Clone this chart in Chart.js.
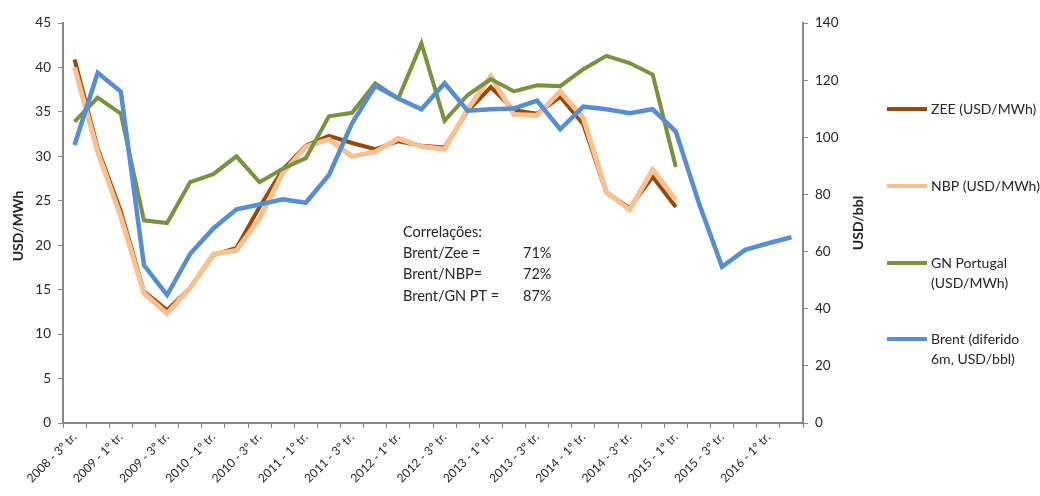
<!DOCTYPE html>
<html lang="pt">
<head>
<meta charset="utf-8">
<title>Brent vs gás natural</title>
<script src="https://cdn.jsdelivr.net/npm/chart.js@4.4.0/dist/chart.umd.min.js"></script>
<style>
    body { margin: 0; background: #fff; }
    #wrap { width: 1040px; height: 496px; }
</style>
</head>
<body>
<div id="wrap"><canvas id="chart" width="1040" height="496"></canvas></div>
<script>
// Trimestres: 2008 - 3º tr. até 2016 - 2º tr.
const quarters = [
    '2008 - 3º tr.', '2008 - 4º tr.',
    '2009 - 1º tr.', '2009 - 2º tr.', '2009 - 3º tr.', '2009 - 4º tr.',
    '2010 - 1º tr.', '2010 - 2º tr.', '2010 - 3º tr.', '2010 - 4º tr.',
    '2011 - 1º tr.', '2011 - 2º tr.', '2011 - 3º tr.', '2011 - 4º tr.',
    '2012 - 1º tr.', '2012 - 2º tr.', '2012 - 3º tr.', '2012 - 4º tr.',
    '2013 - 1º tr.', '2013 - 2º tr.', '2013 - 3º tr.', '2013 - 4º tr.',
    '2014 - 1º tr.', '2014 - 2º tr.', '2014 - 3º tr.', '2014 - 4º tr.',
    '2015 - 1º tr.', '2015 - 2º tr.', '2015 - 3º tr.', '2015 - 4º tr.',
    '2016 - 1º tr.', '2016 - 2º tr.'
];

// USD/MWh (eixo esquerdo)
const zee = [40.9, 30.9, 23.8, 14.8, 12.7, 15.2, 18.9, 19.7, 24.3, 28.5, 31.2, 32.3, 31.5, 30.8, 31.7, 31.2,
    31.0, 35.1, 37.8, 35.2, 34.8, 36.7, 33.6, 25.9, 24.2, 27.7, 24.3];
const nbp = [40.0, 30.5, 23.2, 14.6, 12.3, 15.2, 19.0, 19.4, 23.0, 28.1, 31.1, 31.9, 30.0, 30.5, 32.0, 31.1,
    30.8, 35.3, 39.0, 34.7, 34.6, 37.3, 34.3, 26.0, 24.0, 28.5, 25.1];
const gnPortugal = [33.9, 36.6, 34.8, 22.8, 22.5, 27.1, 28.0, 30.0, 27.1, 28.6, 29.8, 34.5, 34.9, 38.2, 36.5, 42.7,
    34.0, 36.9, 38.7, 37.3, 38.0, 37.9, 39.8, 41.3, 40.5, 39.2, 28.8];
// USD/bbl (eixo direito)
const brent = [97.3, 122.6, 116.0, 55.3, 44.8, 59.2, 68.1, 74.8, 76.5, 78.3, 77.1, 86.8, 104.9, 118.0, 113.6, 109.8,
    118.9, 109.3, 109.8, 110.1, 112.8, 102.8, 110.7, 109.8, 108.4, 109.8, 102.0, 76.9, 54.7, 60.6, 62.9, 65.0];

const leftTicks = { min: 0, max: 45, step: 5 };
const rightTicks = { min: 0, max: 140, step: 20 };

const legendLabels = [
    ['ZEE (USD/MWh)'],
    ['NBP (USD/MWh)'],
    ['GN Portugal', '(USD/MWh)'],
    ['Brent (diferido', '6m, USD/bbl)']
];
const correlLabels = ['Brent/Zee =', 'Brent/NBP=', 'Brent/GN PT ='];
const correlValues = ['71%', '72%', '87%'];

const FONT = 'Lato, "Open Sans", sans-serif';
const TEXT = '#262626';
const AXIS = '#868686';

// completa com null até ao fim das categorias
function pad(arr) {
    return quarters.map((_, i) => (i < arr.length ? arr[i] : null));
}

// Legenda, títulos dos eixos e caixa de correlações
const extras = {
    id: 'extras',
    afterDraw(chart) {
        const ctx = chart.ctx;
        ctx.save();
        ctx.fillStyle = TEXT;
        ctx.textBaseline = 'middle';

        // títulos dos eixos
        ctx.font = 'bold 14px ' + FONT;
        ctx.textAlign = 'center';
        ctx.save();
        ctx.translate(18, 226);
        ctx.rotate(-Math.PI / 2);
        ctx.fillText('USD/MWh', 0, 0);
        ctx.restore();
        ctx.save();
        ctx.translate(858, 223);
        ctx.rotate(-Math.PI / 2);
        ctx.fillText('USD/bbl', 0, 0);
        ctx.restore();

        // legenda
        const legendY = [109, 186, 263, 339];
        ctx.font = '14px ' + FONT;
        ctx.textAlign = 'left';
        chart.data.datasets.forEach((ds, i) => {
            const y = legendY[i];
            ctx.strokeStyle = ds.borderColor;
            ctx.lineWidth = 4;
            ctx.beginPath();
            ctx.moveTo(887, y);
            ctx.lineTo(927, y);
            ctx.stroke();
            legendLabels[i].forEach((line, j) => {
                ctx.fillText(line, 931, y + j * 20);
            });
        });

        // correlações
        ctx.font = '14.5px ' + FONT;
        ctx.fillText('Correlações:', 403, 232);
        correlLabels.forEach((t, i) => {
            const y = 253 + i * 21.5;
            ctx.fillText(t, 403, y);
            ctx.fillText(correlValues[i], 523, y);
        });
        ctx.restore();
    }
};

const ctx = document.getElementById('chart').getContext('2d');
new Chart(ctx, {
    type: 'line',
    data: {
        labels: quarters,
        datasets: [
            { label: 'ZEE (USD/MWh)', data: pad(zee), borderColor: '#984807', borderWidth: 4, yAxisID: 'y', order: 4 },
            { label: 'NBP (USD/MWh)', data: pad(nbp), borderColor: '#FAC090', borderWidth: 5, yAxisID: 'y', order: 3 },
            { label: 'GN Portugal (USD/MWh)', data: pad(gnPortugal), borderColor: '#77933C', borderWidth: 4, yAxisID: 'y', order: 2 },
            { label: 'Brent (diferido 6m, USD/bbl)', data: brent, borderColor: '#558ED5', borderWidth: 4.5, yAxisID: 'y2', order: 1 }
        ]
    },
    options: {
        responsive: false,
        animation: false,
        events: [],
        layout: { padding: { left: 0, right: 170, top: 23, bottom: 0 } },
        elements: {
            point: { radius: 0 },
            line: { tension: 0, fill: false, borderJoinStyle: 'miter', borderCapStyle: 'butt' }
        },
        plugins: {
            legend: { display: false },
            tooltip: { enabled: false }
        },
        scales: {
            x: {
                offset: true,
                afterFit: (s) => { s.height = 73; },
                grid: { offset: true, drawOnChartArea: false, drawTicks: true, tickLength: 5, color: AXIS },
                border: { color: AXIS, width: 2 },
                ticks: {
                    autoSkip: false,
                    maxRotation: 45,
                    minRotation: 45,
                    padding: 2,
                    color: TEXT,
                    font: { family: FONT, size: 12 },
                    callback: (v, i) => (i % 2 === 0 ? quarters[i] : '')
                }
            },
            y: {
                position: 'left',
                min: leftTicks.min,
                max: leftTicks.max,
                afterFit: (s) => { s.width = 63; },
                grid: { drawOnChartArea: false, tickLength: 5, color: AXIS },
                border: { color: AXIS, width: 2 },
                ticks: { stepSize: leftTicks.step, padding: 7, color: TEXT, font: { family: FONT, size: 13.5 } }
            },
            y2: {
                position: 'right',
                min: rightTicks.min,
                max: rightTicks.max,
                afterFit: (s) => { s.width = 67; },
                grid: { drawOnChartArea: false, tickLength: 5, color: AXIS },
                border: { color: AXIS, width: 2 },
                ticks: { stepSize: rightTicks.step, padding: 7, color: TEXT, font: { family: FONT, size: 13.5 } }
            }
        }
    },
    plugins: [extras]
});
</script>
</body>
</html>
